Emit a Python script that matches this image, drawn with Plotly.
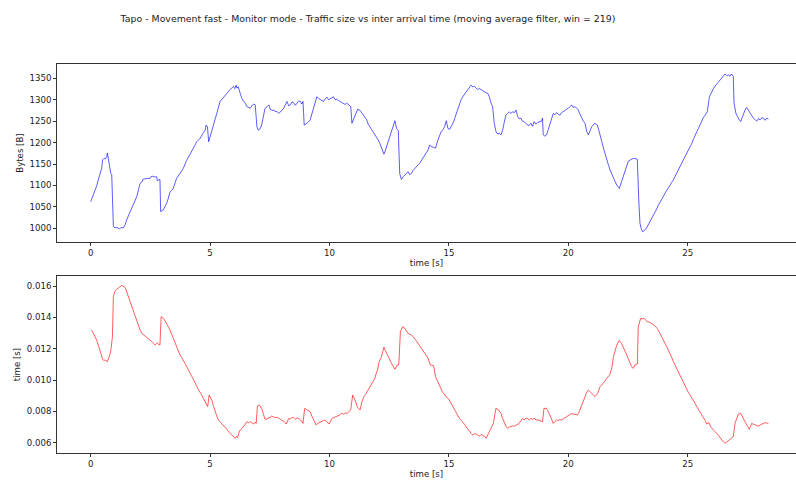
import plotly.graph_objects as go

# ---- data ----
size_t = [0.00,0.12,0.25,0.38,0.46,0.50,0.55,0.62,0.67,0.70,0.74,0.78,0.84,0.88,0.92,0.95,1.02,1.10,1.20,1.30,1.37,1.44,1.50,1.60,1.72,1.82,1.93,2.00,2.07,2.14,2.20,2.35,2.49,2.56,2.66,2.77,2.79,2.85,2.90,2.93,2.98,3.04,3.10,3.18,3.25,3.32,3.45,3.60,3.74,3.88,4.02,4.16,4.30,4.44,4.58,4.72,4.80,4.83,4.89,4.94,5.03,5.14,5.28,5.42,5.56,5.70,5.84,5.92,5.98,6.03,6.09,6.12,6.18,6.26,6.33,6.40,6.47,6.54,6.61,6.68,6.75,6.82,6.89,6.93,6.96,7.02,7.09,7.16,7.25,7.30,7.39,7.46,7.53,7.60,7.70,7.81,7.88,7.95,8.01,8.08,8.15,8.22,8.29,8.36,8.43,8.50,8.57,8.64,8.71,8.78,8.84,8.89,8.94,9.00,9.06,9.12,9.19,9.26,9.33,9.40,9.47,9.54,9.61,9.68,9.75,9.82,9.89,9.96,10.03,10.10,10.17,10.24,10.31,10.38,10.44,10.51,10.58,10.65,10.72,10.79,10.89,10.94,11.00,11.07,11.12,11.18,11.28,11.35,11.42,11.49,11.56,11.62,11.69,11.76,11.83,11.90,11.97,12.04,12.11,12.18,12.28,12.33,12.39,12.46,12.53,12.60,12.67,12.74,12.81,12.88,12.94,13.01,13.08,13.15,13.22,13.29,13.36,13.43,13.50,13.57,13.64,13.71,13.78,13.85,13.92,13.99,14.06,14.13,14.19,14.26,14.33,14.44,14.54,14.61,14.68,14.75,14.82,14.89,14.96,15.03,15.10,15.17,15.24,15.31,15.38,15.44,15.51,15.58,15.65,15.72,15.79,15.86,15.93,16.00,16.07,16.14,16.21,16.28,16.35,16.42,16.49,16.56,16.63,16.69,16.76,16.83,16.90,16.97,17.04,17.11,17.18,17.25,17.32,17.39,17.46,17.53,17.60,17.67,17.74,17.81,17.88,17.95,18.01,18.08,18.15,18.22,18.29,18.36,18.43,18.50,18.57,18.64,18.71,18.81,18.88,18.92,18.95,19.02,19.09,19.16,19.23,19.30,19.37,19.44,19.51,19.58,19.65,19.72,19.79,19.86,19.93,20.00,20.07,20.14,20.21,20.28,20.35,20.42,20.49,20.56,20.63,20.70,20.77,20.84,20.91,20.98,21.05,21.12,21.22,21.28,21.33,21.40,21.47,21.54,21.61,21.68,21.75,21.82,21.89,21.96,22.03,22.10,22.14,22.23,22.30,22.37,22.44,22.51,22.58,22.65,22.72,22.79,22.89,22.95,23.00,23.05,23.11,23.16,23.21,23.28,23.35,23.42,23.49,23.56,23.63,23.70,23.77,23.84,23.91,23.98,24.05,24.12,24.19,24.26,24.33,24.40,24.47,24.54,24.61,24.68,24.75,24.82,24.89,24.96,25.03,25.10,25.17,25.24,25.31,25.38,25.45,25.52,25.59,25.66,25.73,25.82,25.91,26.00,26.08,26.15,26.22,26.28,26.35,26.42,26.49,26.56,26.63,26.70,26.77,26.84,26.91,26.94,27.02,27.07,27.12,27.17,27.22,27.27,27.33,27.40,27.47,27.54,27.61,27.68,27.75,27.82,27.89,27.96,28.03,28.10,28.17,28.24,28.31,28.38]
size_bytes = [1062,1080,1099,1125,1140,1160,1163,1162,1167,1176,1160,1151,1128,1126,1050,1004,1001,1002,999,1002,1001,1008,1019,1032,1047,1060,1074,1090,1105,1108,1115,1116,1117,1122,1120,1120,1111,1113,1114,1039,1040,1043,1050,1058,1070,1085,1092,1117,1128,1140,1159,1175,1187,1202,1210,1223,1230,1241,1237,1202,1218,1241,1268,1296,1306,1315,1324,1328,1331,1326,1334,1327,1330,1315,1303,1297,1292,1284,1281,1280,1286,1290,1288,1262,1237,1229,1232,1241,1264,1280,1284,1288,1277,1276,1273,1272,1268,1272,1276,1280,1288,1296,1286,1288,1295,1293,1287,1292,1297,1296,1290,1296,1241,1243,1245,1248,1253,1266,1280,1294,1307,1303,1301,1298,1296,1302,1306,1300,1303,1306,1307,1300,1301,1298,1296,1293,1292,1289,1292,1288,1284,1245,1253,1261,1270,1278,1275,1268,1264,1258,1253,1243,1237,1230,1226,1220,1214,1206,1198,1187,1173,1180,1190,1205,1218,1230,1241,1251,1233,1229,1128,1114,1120,1124,1128,1132,1125,1128,1135,1140,1143,1148,1152,1159,1165,1171,1177,1183,1194,1191,1190,1187,1206,1216,1226,1230,1237,1251,1233,1231,1238,1245,1256,1268,1281,1293,1300,1307,1313,1319,1324,1329,1334,1330,1331,1327,1324,1326,1323,1321,1319,1316,1315,1307,1293,1284,1245,1226,1220,1222,1218,1229,1248,1264,1268,1272,1268,1272,1270,1276,1261,1255,1257,1250,1249,1244,1241,1240,1245,1238,1249,1243,1247,1249,1250,1257,1218,1215,1218,1230,1241,1255,1268,1265,1270,1266,1264,1270,1272,1275,1278,1280,1284,1288,1282,1284,1280,1276,1266,1257,1250,1245,1226,1218,1228,1237,1242,1245,1241,1230,1218,1203,1187,1172,1159,1148,1136,1126,1117,1109,1101,1096,1093,1109,1122,1136,1146,1156,1159,1161,1163,1163,1161,1066,1012,1000,992,994,996,1001,1008,1015,1023,1029,1035,1045,1054,1060,1066,1074,1082,1088,1093,1099,1105,1113,1121,1128,1136,1144,1152,1160,1167,1175,1183,1191,1198,1208,1218,1225,1233,1243,1253,1259,1264,1272,1307,1319,1326,1332,1337,1342,1346,1350,1355,1360,1356,1358,1355,1360,1354,1292,1268,1262,1257,1252,1249,1258,1268,1276,1282,1276,1268,1262,1257,1254,1250,1256,1253,1258,1257,1252,1257,1255]

iat_t = [0.04,0.15,0.25,0.32,0.39,0.45,0.50,0.55,0.60,0.65,0.70,0.75,0.78,0.82,0.85,0.91,0.95,1.02,1.09,1.16,1.23,1.30,1.37,1.44,1.51,1.58,1.65,1.72,1.79,1.86,1.93,2.00,2.07,2.14,2.21,2.28,2.35,2.42,2.49,2.56,2.63,2.70,2.75,2.79,2.85,2.90,2.95,3.04,3.11,3.18,3.25,3.32,3.39,3.46,3.53,3.60,3.67,3.74,3.81,3.88,3.95,4.02,4.09,4.16,4.23,4.30,4.37,4.44,4.51,4.58,4.65,4.72,4.79,4.86,4.90,4.96,5.01,5.07,5.14,5.21,5.28,5.35,5.42,5.49,5.56,5.63,5.70,5.77,5.84,5.91,5.98,6.05,6.10,6.15,6.20,6.26,6.33,6.40,6.47,6.54,6.61,6.68,6.75,6.82,6.88,6.93,6.98,7.07,7.16,7.23,7.30,7.37,7.44,7.51,7.58,7.65,7.72,7.81,7.90,8.01,8.10,8.19,8.29,8.36,8.43,8.50,8.57,8.64,8.71,8.80,8.89,8.96,9.06,9.13,9.19,9.26,9.33,9.44,9.52,9.61,9.70,9.82,9.90,9.99,10.10,10.20,10.31,10.40,10.51,10.60,10.68,10.75,10.82,10.89,10.97,11.07,11.17,11.28,11.36,11.44,11.51,11.58,11.67,11.76,11.83,11.90,11.95,12.01,12.08,12.13,12.18,12.23,12.28,12.33,12.39,12.46,12.53,12.60,12.67,12.74,12.83,12.90,12.97,13.06,13.15,13.22,13.29,13.36,13.43,13.50,13.57,13.64,13.71,13.78,13.85,13.92,13.99,14.06,14.13,14.22,14.29,14.36,14.44,14.51,14.58,14.65,14.72,14.79,14.86,14.93,15.00,15.07,15.14,15.22,15.31,15.38,15.44,15.51,15.58,15.65,15.72,15.79,15.86,15.93,16.00,16.07,16.14,16.21,16.28,16.36,16.44,16.50,16.56,16.62,16.67,16.76,16.86,16.97,17.08,17.18,17.25,17.32,17.39,17.46,17.53,17.60,17.67,17.74,17.81,17.88,17.94,18.01,18.08,18.15,18.22,18.29,18.36,18.43,18.50,18.57,18.64,18.74,18.83,18.92,18.98,19.09,19.20,19.28,19.37,19.44,19.51,19.58,19.65,19.72,19.79,19.86,19.95,20.04,20.12,20.21,20.30,20.38,20.46,20.56,20.63,20.70,20.77,20.84,20.91,20.98,21.05,21.12,21.23,21.28,21.33,21.40,21.47,21.54,21.61,21.67,21.73,21.82,21.89,21.96,22.03,22.12,22.18,22.23,22.30,22.37,22.44,22.51,22.58,22.65,22.72,22.79,22.89,22.93,23.03,23.10,23.17,23.24,23.31,23.38,23.45,23.52,23.59,23.66,23.72,23.78,23.84,23.91,23.98,24.05,24.12,24.19,24.26,24.33,24.40,24.47,24.54,24.61,24.68,24.75,24.82,24.89,24.96,25.03,25.10,25.17,25.24,25.31,25.38,25.45,25.52,25.59,25.66,25.73,25.80,25.89,25.95,26.01,26.08,26.15,26.22,26.28,26.35,26.42,26.49,26.56,26.63,26.70,26.77,26.84,26.91,26.98,27.05,27.12,27.22,27.27,27.33,27.40,27.47,27.53,27.58,27.63,27.68,27.75,27.82,27.89,27.96,28.03,28.10,28.17,28.24,28.31,28.38]
iat_s = [0.01319,0.01285,0.01255,0.01222,0.01191,0.01160,0.01132,0.01125,0.01128,0.01122,0.01117,0.01140,0.01149,0.01170,0.01196,0.01277,0.01532,0.01570,0.01580,0.01585,0.01595,0.01604,0.01598,0.01591,0.01562,0.01532,0.01500,0.01468,0.01436,0.01404,0.01372,0.01340,0.01318,0.01298,0.01290,0.01281,0.01275,0.01266,0.01255,0.01245,0.01234,0.01223,0.01232,0.01238,0.01226,0.01223,0.01404,0.01394,0.01378,0.01362,0.01340,0.01319,0.01292,0.01266,0.01234,0.01202,0.01180,0.01160,0.01144,0.01128,0.01106,0.01085,0.01064,0.01043,0.01027,0.01011,0.00984,0.00957,0.00942,0.00926,0.00904,0.00883,0.00862,0.00840,0.00830,0.00904,0.00890,0.00872,0.00835,0.00798,0.00770,0.00745,0.00734,0.00723,0.00712,0.00702,0.00686,0.00670,0.00660,0.00649,0.00638,0.00628,0.00640,0.00632,0.00660,0.00681,0.00690,0.00702,0.00718,0.00734,0.00728,0.00734,0.00725,0.00719,0.00730,0.00723,0.00834,0.00840,0.00819,0.00785,0.00749,0.00752,0.00755,0.00762,0.00770,0.00765,0.00760,0.00762,0.00752,0.00745,0.00735,0.00719,0.00755,0.00750,0.00762,0.00760,0.00750,0.00758,0.00755,0.00745,0.00723,0.00819,0.00809,0.00803,0.00798,0.00770,0.00745,0.00713,0.00725,0.00734,0.00738,0.00745,0.00735,0.00719,0.00755,0.00760,0.00766,0.00775,0.00787,0.00782,0.00790,0.00787,0.00800,0.00813,0.00904,0.00872,0.00826,0.00809,0.00862,0.00894,0.00908,0.00926,0.00952,0.00979,0.00995,0.01011,0.01040,0.01064,0.01117,0.01130,0.01149,0.01180,0.01209,0.01190,0.01174,0.01150,0.01128,0.01105,0.01085,0.01068,0.01096,0.01096,0.01309,0.01340,0.01330,0.01310,0.01298,0.01292,0.01287,0.01276,0.01266,0.01250,0.01234,0.01218,0.01202,0.01186,0.01170,0.01155,0.01138,0.01096,0.01094,0.01091,0.01021,0.01000,0.00979,0.00952,0.00926,0.00910,0.00894,0.00885,0.00877,0.00858,0.00840,0.00812,0.00787,0.00770,0.00755,0.00744,0.00734,0.00718,0.00702,0.00686,0.00670,0.00660,0.00649,0.00658,0.00655,0.00648,0.00643,0.00652,0.00645,0.00640,0.00628,0.00645,0.00660,0.00691,0.00723,0.00819,0.00809,0.00787,0.00755,0.00723,0.00705,0.00691,0.00700,0.00702,0.00708,0.00705,0.00713,0.00718,0.00723,0.00740,0.00755,0.00745,0.00755,0.00755,0.00745,0.00755,0.00749,0.00757,0.00745,0.00745,0.00740,0.00734,0.00819,0.00819,0.00787,0.00755,0.00723,0.00735,0.00745,0.00742,0.00748,0.00745,0.00752,0.00755,0.00765,0.00777,0.00785,0.00783,0.00780,0.00777,0.00798,0.00840,0.00872,0.00904,0.00922,0.00936,0.00925,0.00911,0.00902,0.00894,0.00915,0.00935,0.00957,0.00968,0.00979,0.00995,0.01011,0.01022,0.01032,0.01074,0.01149,0.01186,0.01223,0.01251,0.01245,0.01234,0.01212,0.01191,0.01165,0.01138,0.01110,0.01085,0.01074,0.01096,0.01102,0.01340,0.01394,0.01390,0.01394,0.01385,0.01372,0.01370,0.01366,0.01358,0.01351,0.01342,0.01330,0.01314,0.01298,0.01276,0.01255,0.01234,0.01213,0.01192,0.01170,0.01144,0.01117,0.01095,0.01074,0.01053,0.01032,0.01010,0.00989,0.00962,0.00936,0.00920,0.00904,0.00888,0.00872,0.00851,0.00830,0.00814,0.00798,0.00782,0.00766,0.00742,0.00719,0.00728,0.00705,0.00691,0.00680,0.00670,0.00660,0.00649,0.00633,0.00617,0.00606,0.00596,0.00605,0.00613,0.00620,0.00628,0.00638,0.00723,0.00760,0.00783,0.00787,0.00770,0.00755,0.00735,0.00713,0.00700,0.00685,0.00705,0.00723,0.00718,0.00713,0.00710,0.00706,0.00713,0.00719,0.00722,0.00728,0.00725,0.00723]

top_ticks = [1000, 1050, 1100, 1150, 1200, 1250, 1300, 1350]
bot_ticks = [0.006, 0.008, 0.010, 0.012, 0.014, 0.016]
bot_tick_labels = ["0.006", "0.008", "0.010", "0.012", "0.014", "0.016"]
x_ticks = [0, 5, 10, 15, 20, 25]

TITLE = "Tapo - Movement fast - Monitor mode - Traffic size vs inter arrival time (moving average filter, win = 219)"

fig = go.Figure()
fig.add_trace(go.Scatter(x=size_t, y=size_bytes, mode="lines",
                         line=dict(color="rgba(0,0,255,0.8)", width=0.8),
                         xaxis="x", yaxis="y", showlegend=False))
fig.add_trace(go.Scatter(x=iat_t, y=iat_s, mode="lines",
                         line=dict(color="rgba(255,0,0,0.8)", width=0.8),
                         xaxis="x2", yaxis="y2", showlegend=False))

FONT = dict(family="DejaVu Sans", size=8.6, color="#222222")
axis_common = dict(showgrid=False, zeroline=False, showline=True, linecolor="#333333",
                   linewidth=0.8, ticks="outside", ticklen=3, tickwidth=0.8,
                   tickcolor="#333333", tickfont=FONT, automargin=False)

xr = [-1.411, 29.535]
fig.update_layout(
    width=796, height=486,
    margin=dict(l=57, r=0, t=64, b=33, autoexpand=False),
    paper_bgcolor="white", plot_bgcolor="white",
    font=FONT,
    hovermode=False,
    title=dict(text=TITLE, x=368/796, xref="container", xanchor="center",
               y=1 - 19/486, yref="container", yanchor="middle",
               font=dict(family="DejaVu Sans", size=9.4, color="#222222")),
    xaxis=dict(axis_common, domain=[0, 1], range=xr, anchor="y", mirror=True,
               tickvals=x_ticks,
               title=dict(text="time [s]", font=FONT, standoff=2)),
    yaxis=dict(axis_common, domain=[0.5424, 1.0], range=[968.0, 1383.4], anchor="x",
               tickvals=top_ticks,
               title=dict(text="Bytes [B]", font=FONT, standoff=4)),
    xaxis2=dict(axis_common, domain=[0, 1], range=xr, anchor="y2", mirror=True,
                tickvals=x_ticks,
                title=dict(text="time [s]", font=FONT, standoff=2)),
    yaxis2=dict(axis_common, domain=[0.0, 0.455], range=[0.005343, 0.016638], anchor="x2",
                tickvals=bot_ticks, ticktext=bot_tick_labels,
                title=dict(text="time [s]", font=FONT, standoff=4)),
)

fig.write_html("out.html", config={"displayModeBar": False},
               post_script="document.body.style.margin='0';document.body.style.padding='0';")
